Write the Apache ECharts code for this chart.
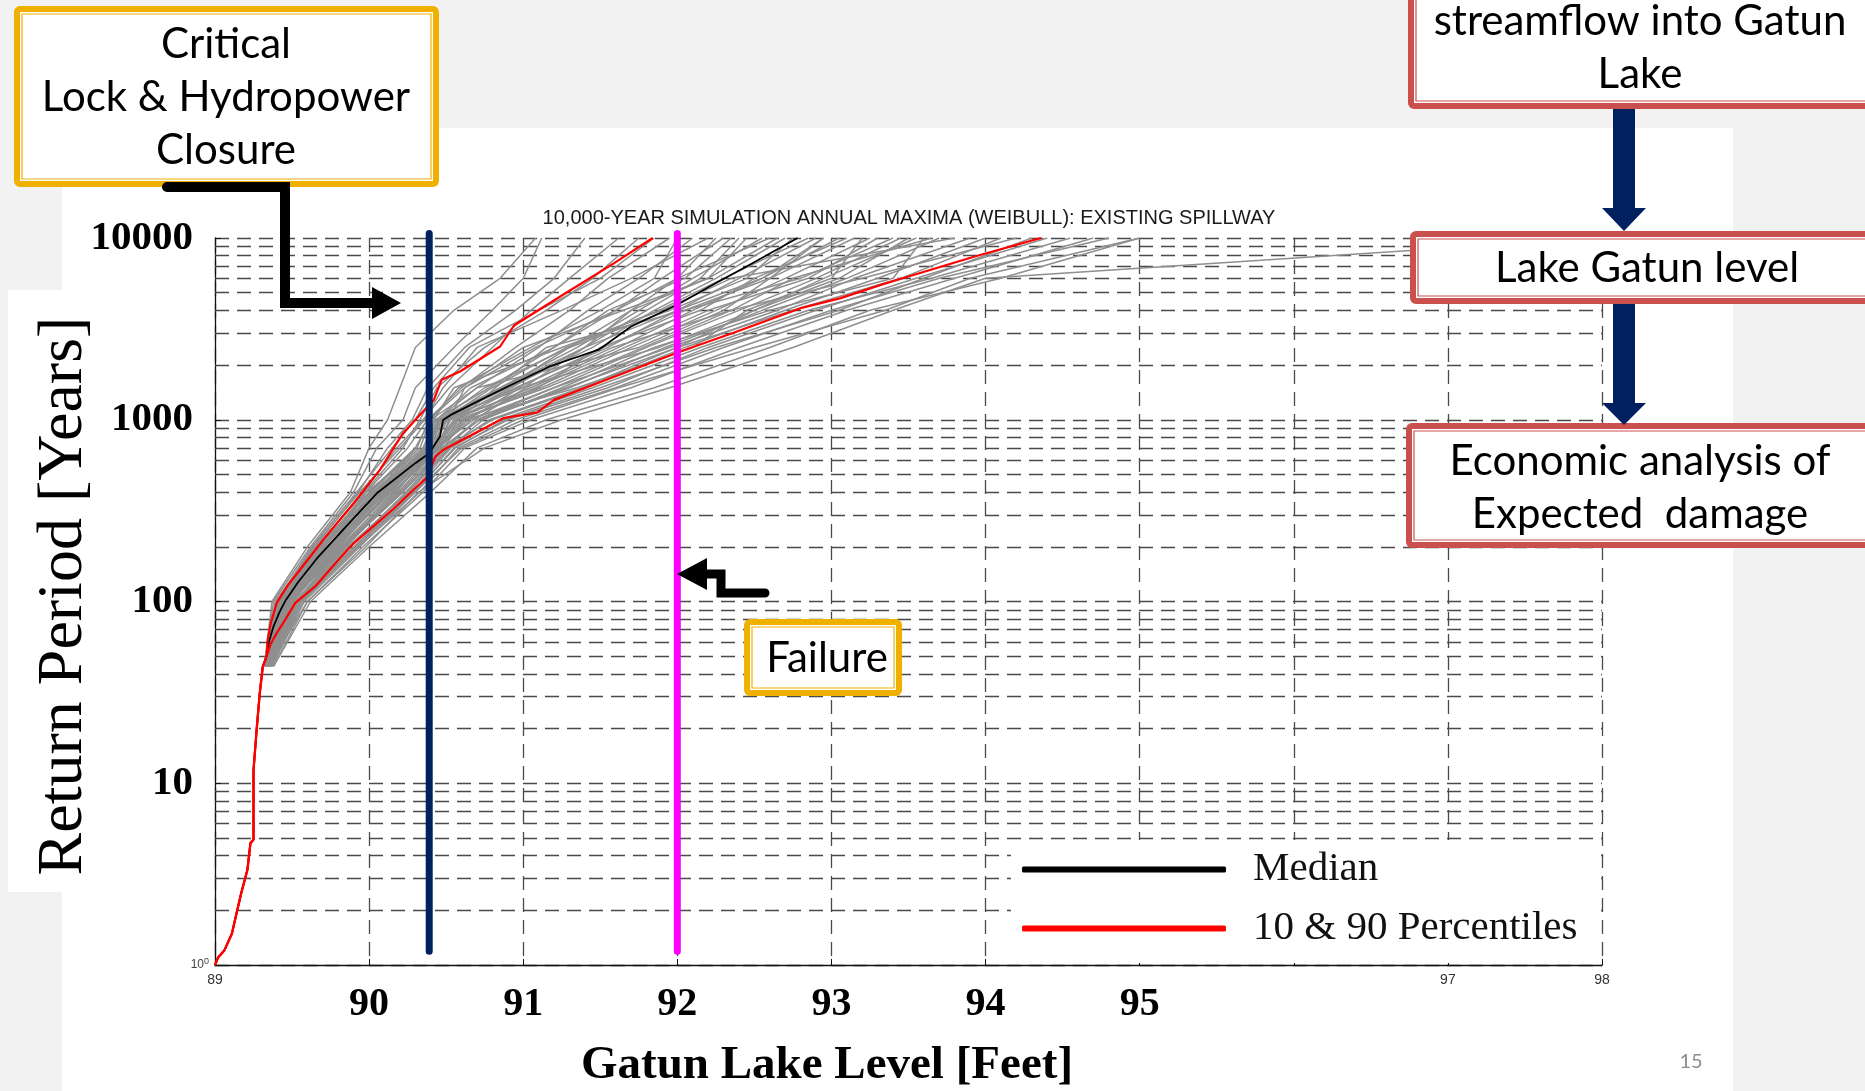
<!DOCTYPE html>
<html>
<head>
<meta charset="utf-8">
<script src="https://cdn.jsdelivr.net/npm/echarts/dist/echarts.min.js"></script>
<style>
  html, body { margin: 0; padding: 0; background: #f2f2f2; }
  #chart { width: 1865px; height: 1091px; }
</style>
</head>
<body>
<div id="chart"></div>
<script>
// ---- Lake level (ft) vs return period (years) ----

// shared low-return-period segment (all curves coincide here)
const baseLevel  = [89.00, 89.02, 89.06, 89.11, 89.14, 89.17, 89.21, 89.23, 89.25, 89.25, 89.27, 89.29, 89.31, 89.335];
const basePeriod = [1, 1.1, 1.2, 1.49, 1.93, 2.48, 3.33, 4.68, 4.9, 11.8, 19.6, 31, 43.8, 50];

// median curve
const medianLevel  = [89.35, 89.38, 89.42, 89.46, 89.54, 89.66, 89.85, 90.05, 90.30, 90.39, 90.46, 90.48, 90.53, 90.81, 91.17, 91.49, 91.70, 92.00, 92.21, 92.49, 92.78];
const medianPeriod = [60, 73, 88, 102, 128, 172, 258, 394, 577, 655, 808, 998, 1063, 1400, 1963, 2430, 3260, 4290, 5410, 7280, 10000];

// 90th percentile (left red curve)
const upperLevel  = [89.34, 89.36, 89.40, 89.47, 89.55, 89.72, 89.90, 90.07, 90.22, 90.32, 90.42, 90.47, 90.59, 90.85, 90.94, 91.24, 91.59, 91.84];
const upperPeriod = [60, 75, 98, 122, 149, 228, 347, 530, 844, 1041, 1286, 1659, 1843, 2529, 3300, 4766, 7276, 10000];

// 10th percentile (right red curve)
const lowerLevel  = [89.36, 89.40, 89.45, 89.52, 89.65, 89.80, 89.90, 90.15, 90.31, 90.37, 90.43, 90.48, 90.87, 91.09, 91.20, 91.54, 92.02, 92.36, 92.80, 93.06, 93.32, 93.50, 93.93, 94.36];
const lowerPeriod = [58, 67, 78, 98, 121, 169, 209, 319, 429, 476, 627, 682, 1020, 1096, 1286, 1659, 2373, 2999, 4111, 4670, 5524, 6138, 7908, 10000];

// individual simulation traces: level at each of these return periods
const grayPeriods = [44, 100, 200, 400, 700, 1000, 1500, 2500, 4000, 6000, 10000];
const grayTraces = [
  [89.32, 89.38, 89.62, 89.90, 90.05, 90.22, 90.30, 90.55, 90.80, 91.00, 91.12],
  [89.33, 89.39, 89.65, 89.93, 90.12, 90.28, 90.38, 90.62, 90.95, 91.20, 91.40],
  [89.33, 89.41, 89.66, 89.96, 90.18, 90.35, 90.52, 90.80, 91.05, 91.30, 91.62],
  [89.34, 89.42, 89.69, 89.98, 90.25, 90.38, 90.60, 90.95, 91.30, 91.55, 91.95],
  [89.33, 89.43, 89.70, 90.00, 90.30, 90.40, 90.70, 91.10, 91.42, 91.75, 92.10],
  [89.34, 89.44, 89.71, 90.02, 90.35, 90.43, 90.78, 91.20, 91.60, 91.90, 92.30],
  [89.34, 89.45, 89.73, 90.04, 90.38, 90.45, 90.85, 91.35, 91.75, 92.10, 92.55],
  [89.34, 89.46, 89.74, 90.06, 90.40, 90.47, 90.90, 91.45, 91.85, 92.25, 92.70],
  [89.35, 89.47, 89.76, 90.08, 90.41, 90.50, 90.95, 91.55, 92.00, 92.40, 92.90],
  [89.35, 89.48, 89.78, 90.10, 90.42, 90.55, 91.05, 91.62, 92.10, 92.55, 93.05],
  [89.35, 89.49, 89.80, 90.13, 90.44, 90.60, 91.12, 91.70, 92.25, 92.70, 93.25],
  [89.36, 89.50, 89.82, 90.16, 90.45, 90.66, 91.20, 91.80, 92.40, 92.90, 93.45],
  [89.36, 89.52, 89.85, 90.20, 90.47, 90.72, 91.30, 91.92, 92.55, 93.10, 93.70],
  [89.36, 89.54, 89.88, 90.24, 90.49, 90.80, 91.40, 92.05, 92.70, 93.30, 94.00],
  [89.37, 89.57, 89.92, 90.30, 90.55, 90.90, 91.55, 92.20, 92.90, 93.55, 94.40],
  [89.38, 89.60, 89.96, 90.35, 90.62, 91.05, 91.70, 92.40, 93.10, 93.80, 94.70],
  [89.38, 89.62, 90.00, 90.40, 90.70, 91.15, 91.85, 92.60, 93.25, 94.10, 95.00],
  [89.35, 89.60, 89.98, 90.32, 90.75, 91.25, 91.95, 92.75, 93.40, 94.00, 98.00],
  [89.33, 89.44, 89.68, 90.05, 90.44, 90.52, 90.62, 91.00, 91.65, 92.20, 92.45],
  [89.35, 89.50, 89.75, 89.98, 90.36, 90.46, 91.00, 91.40, 91.70, 92.00, 92.60],
  [89.34, 89.47, 89.83, 90.18, 90.40, 90.44, 90.70, 91.75, 92.30, 92.60, 92.95],
  [89.35, 89.43, 89.72, 90.12, 90.46, 90.58, 90.82, 91.15, 92.05, 92.80, 93.40],
  [89.36, 89.51, 89.79, 90.09, 90.39, 90.42, 90.55, 91.25, 91.90, 92.35, 93.80],
  [89.33, 89.46, 89.81, 90.22, 90.48, 90.62, 91.35, 92.10, 92.45, 93.00, 93.20],
  [89.34, 89.45, 89.77, 90.14, 90.43, 90.68, 91.02, 91.58, 92.35, 93.20, 94.20],
  [89.35, 89.53, 89.86, 90.26, 90.52, 90.74, 91.25, 91.85, 92.60, 93.40, 93.60],
  [89.34, 89.40, 89.64, 89.94, 90.20, 90.36, 90.48, 90.70, 91.25, 91.70, 92.20],
  [89.33, 89.42, 89.67, 90.00, 90.33, 90.40, 90.58, 91.05, 91.50, 91.85, 92.00],
  [89.35, 89.48, 89.78, 90.11, 90.41, 90.51, 91.10, 91.50, 92.15, 92.50, 93.10],
  [89.36, 89.55, 89.90, 90.28, 90.53, 90.85, 91.45, 92.15, 92.85, 93.65, 94.55],
  [89.34, 89.49, 89.84, 90.19, 90.45, 90.64, 90.98, 91.88, 92.50, 92.95, 93.55],
  [89.35, 89.46, 89.76, 90.07, 90.41, 90.49, 90.88, 91.30, 91.95, 92.45, 92.75],
  [89.32, 89.37, 89.60, 89.88, 90.00, 90.12, 90.20, 90.30, 90.55, 90.85, 91.08],
  [89.33, 89.41, 89.66, 89.97, 90.22, 90.33, 90.44, 90.75, 91.15, 91.45, 91.75],
  [89.36, 89.56, 89.93, 90.33, 90.58, 90.95, 91.60, 92.30, 93.00, 93.70, 94.80],
  [89.37, 89.58, 89.94, 90.30, 90.60, 91.00, 91.62, 92.50, 93.35, 93.90, 95.00],
  [89.34, 89.45, 89.74, 90.10, 90.43, 90.53, 90.92, 91.40, 91.80, 92.15, 92.40],
  [89.35, 89.47, 89.79, 90.15, 90.46, 90.61, 91.08, 91.66, 92.20, 92.85, 93.30],
  [89.36, 89.52, 89.83, 90.21, 90.50, 90.70, 91.20, 91.95, 92.65, 93.15, 93.90],
  [89.34, 89.44, 89.70, 90.03, 90.37, 90.44, 90.66, 91.20, 91.55, 92.05, 92.35],
  [89.35, 89.49, 89.81, 90.17, 90.44, 90.57, 91.15, 91.78, 92.35, 92.75, 93.65],
  [89.33, 89.42, 89.68, 90.01, 90.31, 90.39, 90.62, 91.08, 91.60, 92.00, 92.25],
  [89.36, 89.54, 89.87, 90.25, 90.51, 90.78, 91.38, 92.00, 92.75, 93.45, 94.10],
  [89.35, 89.46, 89.77, 90.09, 90.42, 90.48, 90.80, 91.28, 91.88, 92.30, 92.85],
  [89.34, 89.43, 89.71, 90.05, 90.39, 90.46, 90.75, 91.30, 91.70, 92.20, 92.65],
  [89.37, 89.56, 89.91, 90.29, 90.56, 90.88, 91.50, 92.25, 93.05, 93.60, 94.30],
  [89.33, 89.40, 89.63, 89.92, 90.15, 90.30, 90.42, 90.65, 91.10, 91.50, 91.85],
  [89.35, 89.50, 89.80, 90.12, 90.43, 90.56, 90.96, 91.52, 92.05, 92.60, 93.15],
  [89.36, 89.53, 89.84, 90.22, 90.48, 90.70, 91.28, 92.00, 92.50, 93.05, 93.50],
  [89.34, 89.45, 89.75, 90.08, 90.40, 90.47, 90.86, 91.40, 92.00, 92.55, 92.95]
];

// critical thresholds (ft) and the vertical span they are drawn over (years)
const closureLevel = 90.39;
const failureLevel = 92.0;
const markerSpan = [1.19, 10600];

// axis ticks
const smallXTicks = [89, 97, 98];
const bigXTicks = [90, 91, 92, 93, 94, 95];
const minorPeriods = [2, 3, 4, 5, 6, 7, 8, 9, 20, 30, 40, 50, 60, 70, 80, 90,
  200, 300, 400, 500, 600, 700, 800, 900, 2000, 3000, 4000, 5000, 6000, 7000, 8000, 9000];

const pts = (lv, pr) => lv.map((v, i) => [v, pr[i]]);

const GRID_DASH = { type: [14, 8], color: '#4a4a4a', width: 1.3 };

const series = [];
grayTraces.forEach(tr => {
  series.push({
    type: 'line', name: 'sim', data: pts(tr, grayPeriods),
    symbol: 'none', showSymbol: false, silent: true, z: 2,
    lineStyle: { color: '#8f8f8f', width: 1.5 }, itemStyle: { color: '#8f8f8f' },
    emphasis: { disabled: true }
  });
});
series.push({
  type: 'line', name: 'Median',
  data: pts(baseLevel.concat(medianLevel), basePeriod.concat(medianPeriod)),
  symbol: 'none', silent: true, z: 3,
  lineStyle: { color: '#000', width: 1.8 }, itemStyle: { color: '#000' }
});
[[upperLevel, upperPeriod], [lowerLevel, lowerPeriod]].forEach(([lv, pr]) => {
  series.push({
    type: 'line', name: '10 & 90 Percentiles',
    data: pts(baseLevel.concat(lv), basePeriod.concat(pr)),
    symbol: 'none', silent: true, z: 4,
    lineStyle: { color: '#ff0000', width: 2.2 }, itemStyle: { color: '#ff0000' }
  });
});
[[closureLevel, '#002060'], [failureLevel, '#ff00ff']].forEach(([lv, c]) => {
  series.push({
    type: 'line', name: 'threshold', clip: false,
    data: [[lv, markerSpan[0]], [lv, markerSpan[1]]],
    symbol: 'none', silent: true, z: 6,
    lineStyle: { color: c, width: 7, cap: 'round' }, itemStyle: { color: c }
  });
});
// minor log grid lines
series.push({
  type: 'line', name: 'minorGrid', data: [], silent: true,
  markLine: {
    silent: true, symbol: ['none', 'none'], z: 1, animation: false,
    label: { show: false }, lineStyle: GRID_DASH,
    emphasis: { disabled: true },
    data: minorPeriods.map(v => ({ yAxis: v }))
  }
});

// slide annotation helpers
function frameBox(x, y, w, h, color) {
  return [
    { type: 'rect', z: 100, shape: { x: x + 3, y: y + 3, width: w - 6, height: h - 6, r: 3 },
      style: { fill: '#fff', stroke: color, lineWidth: 6 } },
    { type: 'rect', z: 101, shape: { x: x + 8, y: y + 8, width: w - 16, height: h - 16 },
      style: { fill: null, stroke: color, lineWidth: 1.2 } }
  ];
}
function boxText(x, y, text, size) {
  return { type: 'text', z: 102, x: x, y: y,
    style: { text: text, fill: '#000', font: size + 'px Lato', align: 'center', verticalAlign: 'middle', lineHeight: 53 } };
}
const ORANGE = '#f0b000', RED = '#c9504c', NAVY = '#002060';

const graphics = [
  // slide panels
  { type: 'rect', z: -5, shape: { x: 62, y: 128, width: 1671, height: 963 }, style: { fill: '#fff' } },
  { type: 'rect', z: -5, shape: { x: 8, y: 290, width: 60, height: 602 }, style: { fill: '#fff' } },
  // chart title
  { type: 'text', z: 10, x: 909, y: 218,
    style: { text: '10,000-YEAR SIMULATION ANNUAL MAXIMA (WEIBULL): EXISTING SPILLWAY',
      font: '20px "Liberation Sans"', fill: '#1a1a1a', align: 'center', verticalAlign: 'middle' } },
  // axis titles
  { type: 'text', z: 10, x: 64, y: 596, rotation: Math.PI / 2,
    style: { text: 'Return Period [Years]', font: '64px "Liberation Serif"', fill: '#000', align: 'center', verticalAlign: 'middle' } },
  { type: 'text', z: 10, x: 827, y: 1066,
    style: { text: 'Gatun Lake Level [Feet]', font: 'bold 47px "Liberation Serif"', fill: '#000', align: 'center', verticalAlign: 'middle' } },
  // page number
  { type: 'text', z: 10, x: 1691, y: 1062,
    style: { text: '15', font: '20px Lato', fill: '#8c8c8c', align: 'center', verticalAlign: 'middle' } },

  // "Critical" box and its arrow
  ...frameBox(14, 6, 425, 181, ORANGE),
  boxText(226, 97, 'Critical\nLock & Hydropower\nClosure', 42),
  { type: 'polyline', z: 103, shape: { points: [[167, 187], [285, 187], [285, 303], [378, 303]] },
    style: { stroke: '#000', lineWidth: 10, fill: null, lineCap: 'round', lineJoin: 'miter' } },
  { type: 'polygon', z: 103, shape: { points: [[372, 287], [401, 303], [372, 319]] }, style: { fill: '#000' } },

  // "Failure" box and its arrow
  ...frameBox(744, 619, 158, 77, ORANGE),
  boxText(827, 658, 'Failure', 42),
  { type: 'polyline', z: 103, shape: { points: [[765, 593], [721, 593], [721, 574], [704, 574]] },
    style: { stroke: '#000', lineWidth: 9, fill: null, lineCap: 'round', lineJoin: 'miter' } },
  { type: 'polygon', z: 103, shape: { points: [[707, 558], [677, 574], [707, 590]] }, style: { fill: '#000' } },

  // flow chart on the right
  ...frameBox(1408, -20, 472, 129, RED),
  boxText(1640, 48, 'streamflow into Gatun\nLake', 42),
  { type: 'rect', z: 103, shape: { x: 1613, y: 109, width: 22, height: 101 }, style: { fill: NAVY } },
  { type: 'polygon', z: 103, shape: { points: [[1602, 208], [1646, 208], [1624, 231]] }, style: { fill: NAVY } },
  ...frameBox(1410, 231, 470, 73, RED),
  boxText(1647, 268, 'Lake Gatun level', 42),
  { type: 'rect', z: 103, shape: { x: 1613, y: 304, width: 22, height: 101 }, style: { fill: NAVY } },
  { type: 'polygon', z: 103, shape: { points: [[1602, 403], [1646, 403], [1624, 425]] }, style: { fill: NAVY } },
  ...frameBox(1406, 423, 474, 125, RED),
  boxText(1640, 488, 'Economic analysis of\nExpected  damage', 42)
];

const chart = echarts.init(document.getElementById('chart'), null, { renderer: 'canvas' });
chart.setOption({
  backgroundColor: '#f2f2f2',
  animation: false,
  grid: { left: 215, top: 238, width: 1387, height: 727, outerBoundsMode: 'none', containLabel: false },
  xAxis: [
    {
      type: 'value', min: 89, max: 98, interval: 1, position: 'bottom',
      axisLine: { show: true, onZero: false, lineStyle: { color: '#111', width: 1.3 } },
      axisTick: { show: true, inside: true, length: 6, lineStyle: { color: '#111' } },
      axisLabel: { margin: 8, fontSize: 14, color: '#333', fontFamily: 'Liberation Sans',
        formatter: v => smallXTicks.includes(v) ? String(v) : '' },
      splitLine: { show: true, lineStyle: GRID_DASH }
    },
    {
      type: 'value', min: 89, max: 98, interval: 1, position: 'bottom', offset: 0,
      axisLine: { show: false }, axisTick: { show: false }, splitLine: { show: false },
      axisLabel: { margin: 20, fontSize: 40, fontWeight: 'bold', color: '#000', fontFamily: 'Liberation Serif',
        formatter: v => bigXTicks.includes(v) ? String(v) : '' }
    }
  ],
  yAxis: {
    type: 'log', logBase: 10, min: 1, max: 10000, position: 'left',
    axisLine: { show: true, onZero: false, lineStyle: { color: '#111', width: 1.3 } },
    axisTick: { show: true, inside: true, length: 6, lineStyle: { color: '#111' } },
    splitLine: { show: true, lineStyle: GRID_DASH },
    axisLabel: {
      margin: 6,
      formatter: v => (Math.round(v) === 1 ? '{s|10}{e|0}' : '{b|' + Math.round(v) + '}'),
      rich: {
        b: { fontFamily: 'Liberation Serif', fontWeight: 'bold', fontSize: 41, color: '#000', padding: [0, 16, 0, 0] },
        s: { fontFamily: 'Liberation Sans', fontSize: 12, color: '#444' },
        e: { fontFamily: 'Liberation Sans', fontSize: 9, color: '#444', verticalAlign: 'top', padding: [0, 0, 6, 0] }
      }
    }
  },
  legend: {
    data: ['Median', '10 & 90 Percentiles'],
    orient: 'vertical', left: 1011, top: 840,
    padding: [9, 21, 14, 11], backgroundColor: '#fff',
    icon: 'roundRect', itemWidth: 204, itemHeight: 6, itemGap: 18,
    selectedMode: false, z: 20,
    textStyle: { fontFamily: 'Liberation Serif', fontSize: 41, color: '#111', padding: [0, 0, 0, 22] }
  },
  series: series,
  graphic: { elements: graphics }
});
</script>
</body>
</html>
